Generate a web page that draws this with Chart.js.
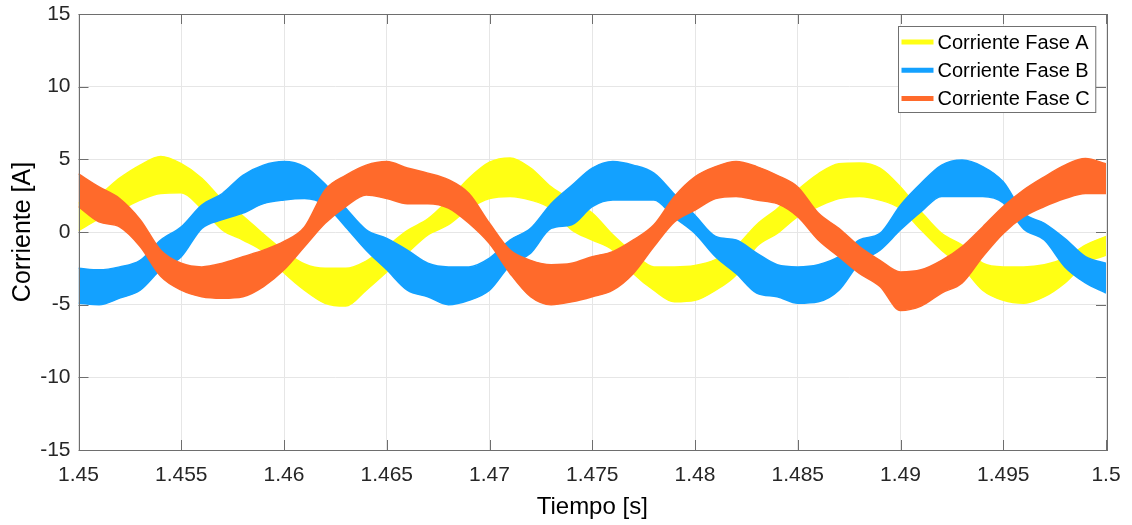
<!DOCTYPE html>
<html>
<head>
<meta charset="utf-8">
<script src="https://cdn.jsdelivr.net/npm/chart.js@4.4.0/dist/chart.umd.min.js"></script>
<style>
  html, body { margin: 0; padding: 0; background: #fff; }
</style>
</head>
<body>
<canvas id="grafico" width="1132" height="525"></canvas>
<script>
// ---------- datos: envolvente superior / inferior de cada corriente ----------
const tiempo = [
  1.450, 1.451, 1.452, 1.453, 1.454, 1.455, 1.456, 1.457, 1.458, 1.459,
  1.460, 1.461, 1.462, 1.463, 1.464, 1.465, 1.466, 1.467, 1.468, 1.469,
  1.470, 1.471, 1.472, 1.473, 1.474, 1.475, 1.476, 1.477, 1.478, 1.479,
  1.480, 1.481, 1.482, 1.483, 1.484, 1.485, 1.486, 1.487, 1.488, 1.489,
  1.490, 1.491, 1.492, 1.493, 1.494, 1.495, 1.496, 1.497, 1.498, 1.499,
  1.500
];

const faseA_sup = [
  2.0, 2.55, 3.7, 4.6, 5.2, 4.7, 3.7, 2.2, 1.1, -0.15,
  -1.3, -2.2, -2.5, -2.5, -2.0, -1.0, 0.1, 0.9, 2.2, 3.7,
  4.8, 5.1, 4.4, 3.1, 2.2, 1.3, -0.2, -1.45, -2.4, -2.4,
  -2.3, -1.9, -1.0, 0.5, 1.6, 2.9, 4.0, 4.7, 4.75, 4.4,
  3.1, 1.4, -0.1, -0.9, -2.15, -2.4, -2.4, -2.25, -1.8, -0.9,
  -0.3
];
const faseA_inf = [
  0.1, 0.9, 1.5, 2.2, 2.65, 2.7, 1.6, 0.15, -0.55, -1.35,
  -2.8, -4.0, -4.9, -5.1, -4.0, -2.75, -1.45, -0.2, 0.5, 1.6,
  2.3, 2.45, 2.2, 1.6, 0.15, -0.55, -1.25, -2.85, -4.0, -4.8,
  -4.7, -4.0, -2.95, -1.0, -0.1, 1.05, 1.75, 2.3, 2.45, 2.2,
  1.6, 0.15, -1.25, -2.4, -4.0, -4.7, -4.9, -4.45, -3.5, -2.15,
  -1.6
];

const faseB_sup = [
  -2.5, -2.6, -2.4, -1.95, -0.55, 0.35, 1.85, 2.65, 3.9, 4.6,
  4.85, 4.5, 3.3, 1.65, 0.15, -0.45, -1.25, -2.15, -2.4, -2.4,
  -1.8, -0.55, 0.25, 1.95, 3.2, 4.4, 4.85, 4.6, 4.05, 2.6,
  1.15, -0.3, -0.55, -1.45, -2.25, -2.4, -2.25, -1.7, -0.55, -0.1,
  1.85, 3.35, 4.6, 4.95, 4.5, 3.45, 1.3, 0.6, -0.45, -1.7,
  -2.15
];
const faseB_inf = [
  -4.9, -5.0, -4.55, -4.0, -2.6, -1.7, 0.25, 0.85, 1.3, 1.95,
  2.2, 2.3, 1.85, 0.35, -1.25, -2.6, -4.0, -4.45, -5.0, -4.7,
  -4.0, -2.3, -1.45, 0.25, 0.5, 1.75, 2.2, 2.2, 2.2, 1.0,
  -0.1, -1.7, -2.85, -4.2, -4.45, -4.9, -4.8, -4.0, -2.15, -1.25,
  0.15, 1.4, 2.45, 2.45, 2.45, 2.0, 0.2, -0.55, -2.4, -3.5,
  -4.2
];

const faseC_sup = [
  4.0, 3.1, 2.3, 0.85, -1.25, -2.15, -2.4, -2.15, -1.7, -1.25,
  -0.65, 0.35, 2.9, 3.9, 4.6, 4.85, 4.4, 4.05, 3.6, 2.65,
  0.6, -1.25, -1.95, -2.25, -2.15, -1.7, -1.35, -0.55, 0.5, 2.45,
  3.8, 4.5, 4.85, 4.5, 3.9, 3.1, 1.3, 0.25, -1.0, -1.95,
  -2.75, -2.6, -1.95, -1.0, 0.35, 1.75, 2.9, 3.8, 4.6, 5.05,
  4.7
];
const faseC_inf = [
  1.75, 0.7, 0.35, -1.0, -3.05, -4.0, -4.45, -4.55, -4.45, -3.75,
  -2.6, -1.0, 0.6, 1.75, 2.55, 2.3, 1.95, 1.95, 1.65, 0.6,
  -0.8, -2.85, -4.45, -5.0, -4.8, -4.45, -4.0, -2.85, -1.0, 0.7,
  1.5, 2.3, 2.45, 2.2, 1.95, 1.05, -0.55, -1.7, -2.85, -3.75,
  -5.4, -5.1, -4.2, -3.5, -1.7, -0.1, 1.05, 1.75, 2.3, 2.65,
  2.65
];

const xTicks = ['1.45', '1.455', '1.46', '1.465', '1.47', '1.475', '1.48', '1.485', '1.49', '1.495', '1.5'];
const yTicks = [-15, -10, -5, 0, 5, 10, 15];

const nombres = ['Corriente Fase A', 'Corriente Fase B', 'Corriente Fase C'];
const colores = ['#ffff14', '#13a1ff', '#ff6a2b'];
const bandas = [
  [faseA_sup, faseA_inf],
  [faseB_sup, faseB_inf],
  [faseC_sup, faseC_inf]
];

const FUENTE = '"Liberation Sans", Arial, Helvetica, sans-serif';
const COLOR_EJE = '#6e6e6e';

// ---------- datasets: cada fase es una banda rellena entre dos curvas ----------
const datasets = [];
bandas.forEach(([sup, inf], i) => {
  const comun = {
    borderColor: colores[i],
    backgroundColor: colores[i],
    borderWidth: 1.5,
    pointRadius: 0,
    cubicInterpolationMode: 'monotone',
    order: 2 - i // fase C encima, fase A debajo
  };
  datasets.push({ ...comun, label: nombres[i], data: tiempo.map((t, k) => ({ x: t, y: sup[k] })), fill: '+1' });
  datasets.push({ ...comun, label: nombres[i] + ' inf', data: tiempo.map((t, k) => ({ x: t, y: inf[k] })), fill: false });
});

// ---------- caja de ejes con marcas hacia dentro ----------
const cajaEjes = {
  id: 'cajaEjes',
  afterDatasetsDraw(chart) {
    const { ctx, chartArea: a, scales } = chart;
    const L = 10;
    ctx.save();
    ctx.strokeStyle = COLOR_EJE;
    ctx.lineWidth = 1;
    ctx.beginPath();
    scales.x.ticks.forEach(t => {
      const px = Math.round(scales.x.getPixelForValue(t.value)) + 0.5;
      ctx.moveTo(px, a.bottom); ctx.lineTo(px, a.bottom - L);
      ctx.moveTo(px, a.top); ctx.lineTo(px, a.top + L);
    });
    scales.y.ticks.forEach(t => {
      const py = Math.round(scales.y.getPixelForValue(t.value)) + 0.5;
      ctx.moveTo(a.left, py); ctx.lineTo(a.left + L, py);
      ctx.moveTo(a.right, py); ctx.lineTo(a.right - L, py);
    });
    ctx.stroke();
    ctx.strokeRect(Math.round(a.left) + 0.5, Math.round(a.top) + 0.5,
                   Math.round(a.right - a.left), Math.round(a.bottom - a.top));
    ctx.restore();
  }
};

// ---------- leyenda en la esquina superior derecha ----------
const leyenda = {
  id: 'leyenda',
  afterDraw(chart) {
    const { ctx, chartArea: a } = chart;
    ctx.save();
    ctx.font = '20px ' + FUENTE;
    const anchoTexto = Math.max(...nombres.map(n => ctx.measureText(n).width));
    const ancho = anchoTexto + 45;
    const alto = 86;
    const x0 = Math.round(a.right - 11 - ancho) + 0.5;
    const y0 = Math.round(a.top + 11.5) + 0.5;
    ctx.fillStyle = '#fff';
    ctx.fillRect(x0, y0, ancho, alto);
    ctx.strokeStyle = '#707070';
    ctx.lineWidth = 1;
    ctx.strokeRect(x0, y0, ancho, alto);
    nombres.forEach((n, i) => {
      const yc = y0 + 15.5 + i * 28.3;
      ctx.strokeStyle = colores[i];
      ctx.lineWidth = 5;
      ctx.beginPath();
      ctx.moveTo(x0 + 3, yc);
      ctx.lineTo(x0 + 35, yc);
      ctx.stroke();
      ctx.fillStyle = '#000';
      ctx.textBaseline = 'middle';
      ctx.fillText(n, x0 + 39, yc + 1);
    });
    ctx.restore();
  }
};

// ---------- gráfico ----------
new Chart(document.getElementById('grafico'), {
  type: 'line',
  data: { datasets },
  plugins: [cajaEjes, leyenda],
  options: {
    responsive: false,
    animation: false,
    devicePixelRatio: 1,
    layout: { padding: { top: 14, right: 26, left: 0, bottom: 0 } },
    plugins: {
      legend: { display: false },
      tooltip: { enabled: false }
    },
    scales: {
      x: {
        type: 'linear',
        min: 1.45,
        max: 1.5,
        afterBuildTicks: s => { s.ticks = xTicks.map(v => ({ value: parseFloat(v) })); },
        afterFit: s => { s.height = 75; s.paddingLeft = 0; s.paddingRight = 0; },
        grid: { color: '#e6e6e6', drawTicks: false },
        border: { display: false },
        ticks: {
          autoSkip: false,
          maxRotation: 0,
          padding: 13,
          color: '#262626',
          font: { family: FUENTE, size: 21 },
          callback: (v, i) => xTicks[i]
        },
        title: {
          display: true,
          text: 'Tiempo [s]',
          color: '#000',
          font: { family: FUENTE, size: 24 },
          padding: { top: 0, bottom: 3 }
        }
      },
      y: {
        min: -15,
        max: 15,
        afterBuildTicks: s => { s.ticks = yTicks.map(v => ({ value: v })); },
        afterFit: s => { s.width = 78.5; s.paddingTop = 0; s.paddingBottom = 0; },
        grid: { color: '#e6e6e6', drawTicks: false },
        border: { display: false },
        ticks: {
          padding: 8,
          color: '#262626',
          font: { family: FUENTE, size: 21 },
          callback: v => String(v)
        },
        title: {
          display: true,
          text: 'Corriente [A]',
          color: '#000',
          font: { family: FUENTE, size: 25 },
          padding: { top: 8, bottom: 0 }
        }
      }
    }
  }
});
</script>
</body>
</html>
